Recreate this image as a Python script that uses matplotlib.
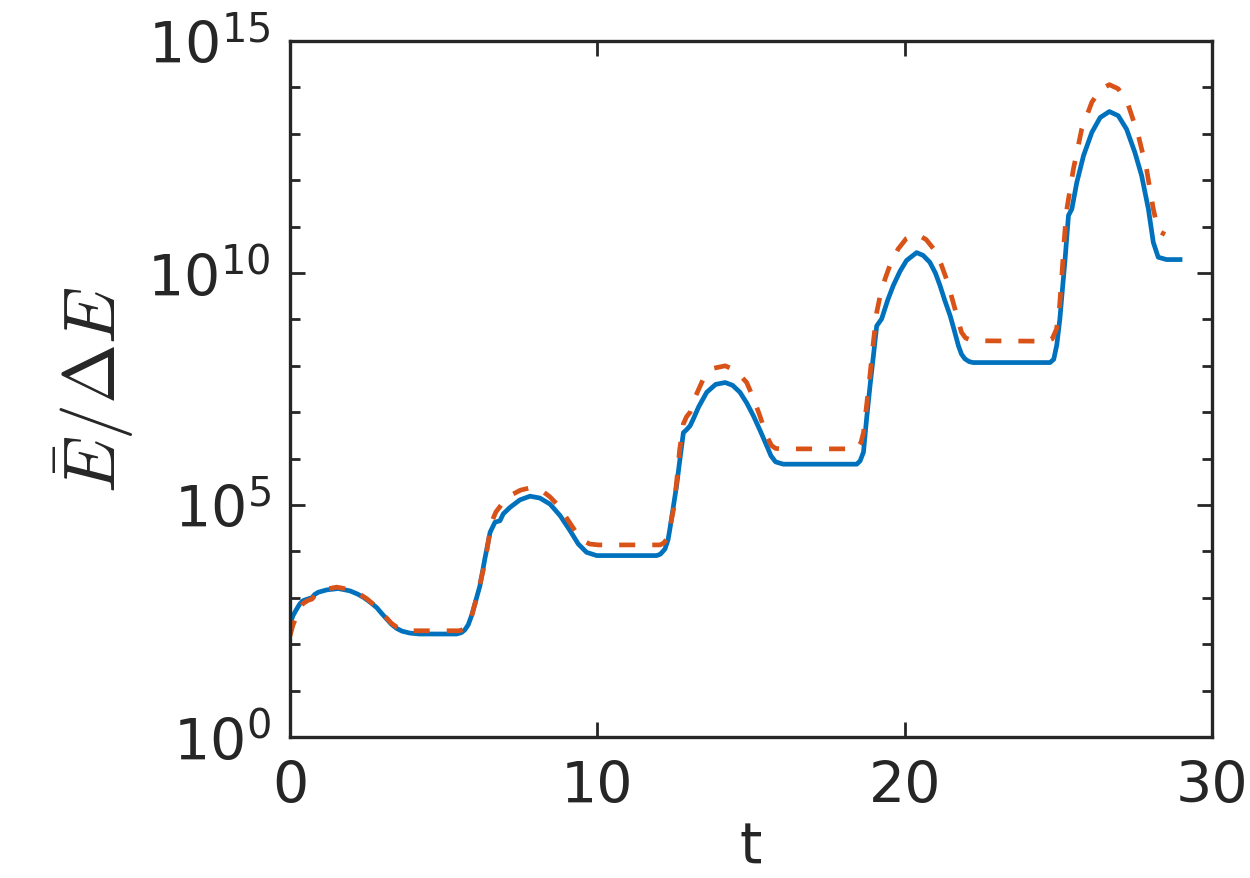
import numpy as np
import matplotlib
matplotlib.use('Agg')
import matplotlib.pyplot as plt
from matplotlib.ticker import FixedLocator, NullFormatter

# données (t, log10 de E/dE)
t_blue = [0.00, 0.10, 0.22, 0.32, 0.43, 0.60, 0.71, 0.80, 0.92, 1.19, 1.57, 1.95, 2.20, 2.39, 2.60,
          2.82, 3.00, 3.15, 3.30, 3.47, 3.65, 3.90, 4.20, 5.42, 5.58, 5.69, 5.80, 5.91, 6.05, 6.18,
          6.34, 6.51, 6.67, 6.83, 6.94, 7.16, 7.48, 7.81, 8.13, 8.46, 8.79, 9.11, 9.38, 9.65, 9.98,
          11.93, 12.05, 12.20, 12.30, 12.36, 12.47, 12.58, 12.69, 12.80, 12.90, 13.02, 13.12, 13.30,
          13.56, 13.85, 14.16, 14.40, 14.64, 14.86, 15.08, 15.30, 15.51, 15.65, 15.80, 16.05,
          18.44, 18.55, 18.66, 18.76, 18.87, 18.98, 19.09, 19.25, 19.45, 19.63, 19.85, 20.06, 20.39,
          20.60, 20.82, 21.00, 21.15, 21.30, 21.48, 21.62, 21.75, 21.85, 21.96, 22.10, 22.23,
          24.73, 24.85, 24.95, 25.05, 25.14, 25.22, 25.33, 25.44, 25.60, 25.82, 26.09, 26.36, 26.66,
          26.95, 27.22, 27.49, 27.71, 27.93, 28.09, 28.25, 28.52, 28.96]
log_blue = [2.44, 2.62, 2.76, 2.87, 2.94, 2.98, 3.00, 3.07, 3.12, 3.17, 3.20, 3.15, 3.08, 3.01, 2.91,
            2.79, 2.65, 2.54, 2.43, 2.34, 2.28, 2.24, 2.22, 2.22, 2.25, 2.31, 2.42, 2.62, 2.95, 3.26,
            3.84, 4.41, 4.63, 4.66, 4.81, 4.95, 5.11, 5.19, 5.15, 5.02, 4.77, 4.45, 4.16, 3.98, 3.91,
            3.91, 3.94, 4.05, 4.25, 4.48, 4.95, 5.42, 6.00, 6.56, 6.62, 6.71, 6.85, 7.12,
            7.43, 7.60, 7.64, 7.58, 7.43, 7.20, 6.92, 6.60, 6.28, 6.06, 5.93, 5.88,
            5.88, 5.95, 6.14, 6.85, 7.55, 8.20, 8.86, 9.01, 9.42, 9.73, 10.04, 10.27, 10.44,
            10.38, 10.23, 10.00, 9.73, 9.42, 9.08, 8.75, 8.43, 8.25, 8.15, 8.09, 8.07,
            8.07, 8.14, 8.45, 9.01, 9.70, 10.30, 11.24, 11.38, 11.95, 12.53, 13.03, 13.35, 13.48,
            13.39, 13.10, 12.60, 12.10, 11.38, 10.66, 10.34, 10.29, 10.29]

t_orange = [0.00, 0.10, 0.22, 0.32, 0.43, 0.60, 0.71, 0.80, 0.92, 1.20, 1.52, 1.85, 2.17, 2.50, 2.82,
            3.00, 3.15, 3.30, 3.47, 3.70, 3.90, 5.50, 5.65, 5.78, 5.91, 6.05, 6.20, 6.34, 6.45, 6.56,
            6.70, 6.94, 7.21, 7.50, 7.81, 8.19, 8.45, 8.73, 9.00, 9.27, 9.54, 9.75, 10.03,
            12.04, 12.16, 12.26, 12.36, 12.48, 12.58, 12.68, 12.80, 12.90, 13.02, 13.20, 13.45, 13.80,
            14.16, 14.50, 14.86, 15.08, 15.29, 15.50, 15.67, 15.80, 15.94,
            18.44, 18.58, 18.66, 18.77, 18.87, 18.98, 19.09, 19.20, 19.36, 19.55, 19.79, 20.05, 20.39,
            20.70, 20.99, 21.18, 21.36, 21.50, 21.64, 21.75, 21.85, 21.98, 22.23,
            24.62, 24.80, 24.94, 25.03, 25.11, 25.19, 25.27, 25.49, 25.76, 26.09, 26.36, 26.66, 26.95,
            27.28, 27.60, 27.87, 28.09, 28.25, 28.47]
log_orange = [2.18, 2.42, 2.61, 2.78, 2.88, 2.95, 2.97, 3.04, 3.12, 3.19, 3.23, 3.19, 3.12, 2.98, 2.80,
              2.66, 2.56, 2.45, 2.37, 2.31, 2.29, 2.29, 2.32, 2.42, 2.60, 2.95, 3.35, 3.75, 4.20, 4.63,
              4.85, 5.06, 5.22, 5.32, 5.37, 5.31, 5.18, 4.99, 4.72, 4.45, 4.23, 4.16, 4.14,
              4.14, 4.18, 4.27, 4.50, 4.91, 5.50, 6.20, 6.75, 6.90, 7.00, 7.35, 7.72, 7.95,
              8.00, 7.90, 7.64, 7.30, 6.92, 6.50, 6.28, 6.22, 6.21,
              6.21, 6.35, 6.56, 7.20, 7.79, 8.50, 9.15, 9.50, 9.87, 10.22, 10.52, 10.74, 10.84,
              10.72, 10.48, 10.20, 9.87, 9.55, 9.22, 8.95, 8.72, 8.60, 8.54,
              8.53, 8.58, 8.79, 9.20, 9.90, 10.70, 11.35, 12.24, 13.10, 13.68, 13.95, 14.06, 13.97,
              13.61, 12.97, 12.24, 11.38, 10.91, 10.83]

x_ticks = [0, 10, 20, 30]
y_ticks_exp = [0, 5, 10, 15]

gris = "#262626"

fig = plt.figure(figsize=(12.5, 8.79), dpi=100)
ax = fig.add_axes([0.232, 0.1604, 0.7376, 0.7918])

ax.plot(t_blue, 10.0 ** np.array(log_blue), color="#0072BD", linewidth=3.4,
        solid_joinstyle="round")
ax.plot(t_orange, 10.0 ** np.array(log_orange), color="#D95319", linewidth=3.4,
        linestyle=(0, (3.4, 3.6)), dash_capstyle="butt", dash_joinstyle="round")

ax.set_yscale("log")
ax.set_xlim(0, 30)
ax.set_ylim(1, 1e15)

# graduations
ax.set_xticks(x_ticks)
ax.set_xticklabels([str(v) for v in x_ticks])
ax.yaxis.set_major_locator(FixedLocator([10.0 ** e for e in y_ticks_exp]))
ax.set_yticklabels([r"$10^{%d}$" % e for e in y_ticks_exp])
ax.yaxis.set_minor_locator(FixedLocator([10.0 ** e for e in range(16) if e % 5 != 0]))
ax.yaxis.set_minor_formatter(NullFormatter())

ax.tick_params(which="both", direction="in", top=True, right=True, color=gris,
               labelcolor=gris, labelsize=41, width=2.0)
ax.tick_params(axis="x", pad=16)
ax.tick_params(axis="y", pad=14)
ax.tick_params(which="major", length=11)
ax.tick_params(which="minor", length=7)

for s in ax.spines.values():
    s.set_color(gris)
    s.set_linewidth(2.4)

ax.set_xlabel("t", fontsize=41, color=gris, labelpad=4)
ax.set_ylabel(r"$\bar{E}/\Delta E$", fontsize=52, color=gris, math_fontfamily="cm", labelpad=8)

fig.savefig("out.png", dpi=100)
